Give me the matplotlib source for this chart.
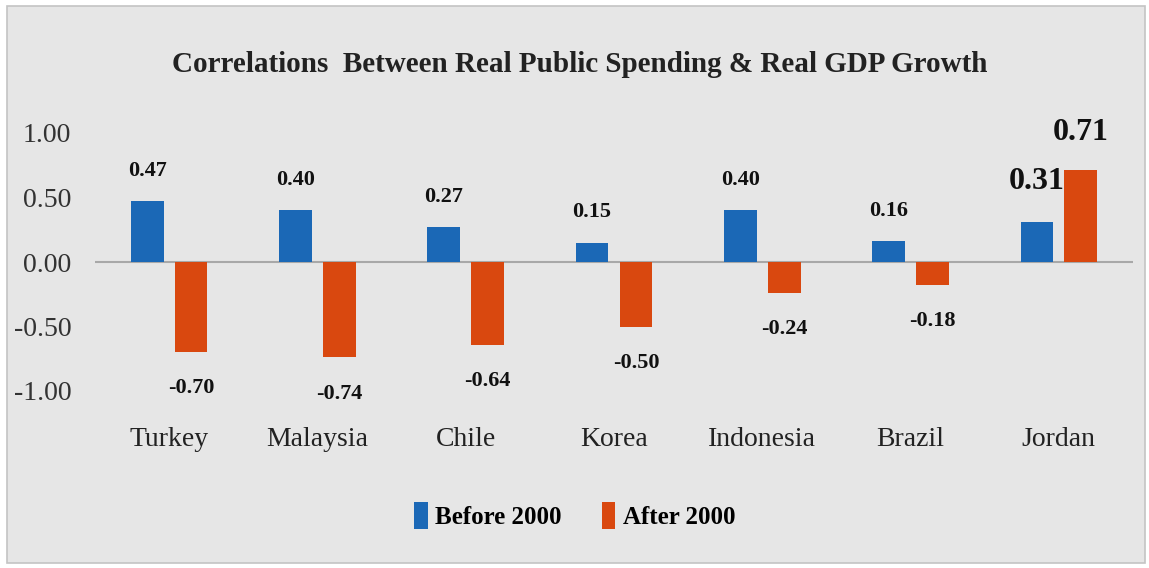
import numpy as np
import matplotlib
matplotlib.use("Agg")
import matplotlib.pyplot as plt
from matplotlib.patches import Rectangle

# ── Data ──────────────────────────────────────────────────────────────────────
countries   = ["Turkey", "Malaysia", "Chile", "Korea", "Indonesia", "Brazil", "Jordan"]
before_2000 = [0.47, 0.40, 0.27, 0.15, 0.40, 0.16, 0.31]
after_2000  = [-0.70, -0.74, -0.64, -0.50, -0.24, -0.18, 0.71]
yticks      = [1.0, 0.5, 0.0, -0.5, -1.0]

BLUE   = "#1b68b6"
ORANGE = "#d9480f"
BG     = "#e6e6e6"

plt.rcParams["font.family"] = ["Liberation Serif", "DejaVu Serif"]

fig = plt.figure(figsize=(11.49, 5.68), dpi=100, facecolor="white")
# grey panel with thin border, kept behind the axes
fig.patches.append(Rectangle((7 / 1149, 5 / 568), 1138 / 1149, 557 / 568,
                             transform=fig.transFigure, facecolor=BG,
                             edgecolor="#c4c4c4", linewidth=1.2, zorder=-10))

ax = fig.add_axes([95 / 1149, (568 - 391) / 568, 1038 / 1149, 258 / 568])
ax.set_facecolor("none")
ax.set_zorder(1)

x = np.arange(len(countries))
w = 0.22
off = 0.148
b1 = ax.bar(x - off, before_2000, w, color=BLUE, label="Before 2000", zorder=3)
b2 = ax.bar(x + off, after_2000, w, color=ORANGE, label="After 2000", zorder=3)

ax.axhline(0, color="#a8a8a8", linewidth=1.5, zorder=2)
ax.set_xlim(-0.5, len(countries) - 0.5)
ax.set_ylim(-1.0, 1.0)
ax.set_yticks(yticks)
ax.set_yticklabels([f"{v:.2f}" for v in yticks], fontsize=20, color="#333333")
ax.set_xticks(x)
ax.set_xticklabels(countries, fontsize=20, color="#222222")
ax.tick_params(axis="y", length=0, pad=17)
ax.tick_params(axis="x", length=0, pad=26)
for s in ax.spines.values():
    s.set_visible(False)

# value labels
for i, (v1, v2) in enumerate(zip(before_2000, after_2000)):
    big = countries[i] == "Jordan"
    fs = 23 if big else 16
    ax.annotate(f"{v1:.2f}", (x[i] - off, v1), xytext=(0, 29 if big else 22),
                textcoords="offset points", ha="center", va="center",
                fontsize=fs, fontweight="bold", color="#111111", clip_on=False)
    dy = 27 if v2 > 0 else -26
    ax.annotate(f"{v2:.2f}", (x[i] + off, v2), xytext=(0, dy),
                textcoords="offset points", ha="center", va="center",
                fontsize=fs, fontweight="bold", color="#111111", clip_on=False)

fig.text(0.505, 0.886, "Correlations  Between Real Public Spending & Real GDP Growth",
         ha="center", va="center", fontsize=21, fontweight="bold", color="#222222")

fig.legend(handles=[b1, b2], loc="center", bbox_to_anchor=(0.5, 0.093), ncol=2,
           frameon=False, handlelength=0.55, handleheight=1.3, handletextpad=0.3,
           columnspacing=1.6, prop={"size": 18, "weight": "bold"})

plt.savefig("out.png", dpi=100, facecolor="white")
